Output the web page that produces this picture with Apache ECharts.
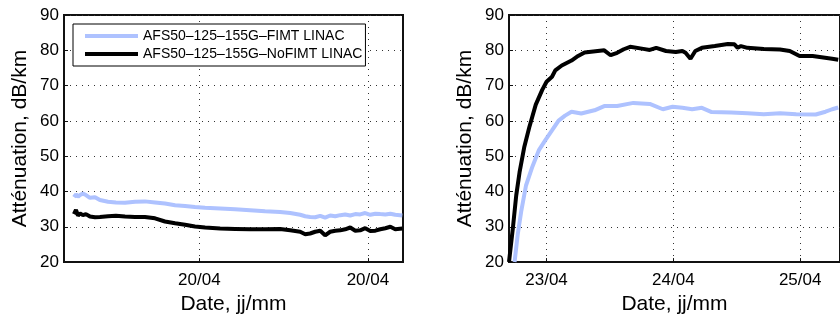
<!DOCTYPE html>
<html>
<head>
<meta charset="utf-8">
<script src="https://cdn.jsdelivr.net/npm/echarts@6/dist/echarts.min.js"></script>
<style>html,body{margin:0;padding:0;background:#fff;}#c{width:840px;height:320px;}</style>
</head>
<body>
<div id="c"></div>
<script>
// ---- Data ----
var seriesNames = ['AFS50\u2013125\u2013155G\u2013FIMT LINAC', 'AFS50\u2013125\u2013155G\u2013NoFIMT LINAC'];

// Left panel (x in tick units, 0 and 1 are the two "20/04" ticks)
var leftX = [-0.744,-0.732,-0.720,-0.708,-0.691,-0.673,-0.649,-0.619,-0.590,-0.542,-0.495,-0.441,-0.382,-0.323,-0.263,-0.204,-0.144,-0.085,-0.026,0.034,0.123,0.212,0.301,0.390,0.479,0.539,0.598,0.628,0.657,0.687,0.717,0.746,0.776,0.806,0.836,0.865,0.895,0.925,0.954,0.984,1.014,1.044,1.073,1.103,1.133,1.162,1.204];
var leftFimt = [38.4,39.2,38.5,39.0,39.4,39.0,38.2,38.4,37.6,37.1,36.9,36.8,37.1,37.2,36.9,36.6,36.1,35.9,35.6,35.4,35.2,35.0,34.7,34.4,34.2,33.9,33.4,33.0,32.8,32.7,33.1,32.6,33.2,33.0,33.3,33.5,33.2,33.6,33.5,33.9,33.4,33.7,33.6,33.5,33.7,33.4,33.2];
var leftNoFimt = [33.6,34.8,33.2,33.8,33.3,33.6,32.9,32.7,32.8,33.0,33.1,32.9,32.8,32.8,32.4,31.5,31.0,30.6,30.1,29.8,29.5,29.4,29.3,29.3,29.4,29.0,28.6,27.9,28.1,28.6,28.9,27.6,28.6,28.9,29.0,29.3,29.8,28.9,29.0,29.6,28.8,28.9,29.3,29.6,30.0,29.3,29.5];
var leftTickValues = [0, 1];
var leftTickLabels = ['20/04', '20/04'];

// Right panel (x in days of April)
var rightBlackX = [22.704,22.735,22.761,22.787,22.825,22.864,22.915,22.966,23.000,23.043,23.069,23.120,23.197,23.249,23.300,23.403,23.455,23.505,23.557,23.609,23.659,23.763,23.814,23.865,23.942,24.019,24.071,24.096,24.135,24.173,24.225,24.327,24.430,24.482,24.507,24.533,24.584,24.713,24.841,24.918,24.995,25.098,25.252,25.300];
var rightNoFimt = [20.0,29.8,38.9,45.4,52.7,58.2,64.6,68.8,71.1,72.5,74.3,75.7,77.1,78.4,79.4,79.8,80.0,78.6,79.3,80.3,81.0,80.4,80.1,80.7,79.8,79.5,79.8,79.3,77.6,79.8,80.7,81.2,81.8,81.7,80.7,81.2,80.7,80.4,80.2,79.8,78.4,78.4,77.6,77.3];
var rightBlueX = [22.748,22.773,22.800,22.838,22.889,22.941,22.992,23.043,23.095,23.146,23.197,23.274,23.378,23.455,23.557,23.685,23.814,23.917,23.994,24.071,24.148,24.225,24.302,24.456,24.584,24.713,24.841,24.969,25.123,25.200,25.252,25.300];
var rightFimt = [20.0,27.9,34.3,41.7,47.1,51.8,54.6,57.3,60.1,61.5,62.6,62.1,63.0,64.2,64.2,65.1,64.8,63.3,64.0,63.7,63.3,63.7,62.5,62.4,62.2,61.9,62.2,61.9,61.8,62.6,63.3,63.8];
var rightTickValues = [23, 24, 25];
var rightTickLabels = ['23/04', '24/04', '25/04'];

var yMin = 20, yMax = 90, yStep = 10;
var xTitle = 'Date, jj/mm';
var yTitle = 'Att\u00e9nuation, dB/km';

// ---- Chart ----
var FONT = '"Liberation Sans", Arial, Helvetica, sans-serif';
var BLUE = '#aec2ff';
var BLACK = '#000000';
var GRIDDOT = { color: '#333', width: 1, type: [1, 5] };
function zip(xs, ys){ return xs.map(function(x,i){ return [x, ys[i]]; }); }

function xAxisCfg(idx, min, max, ticks, labels){
  return {
    type: 'value', gridIndex: idx, min: min, max: max,
    name: xTitle, nameLocation: 'middle', nameGap: 29,
    nameTextStyle: { fontSize: 21, color: '#000', fontFamily: FONT },
    axisLine: { show: true, onZero: false, lineStyle: { color: '#111', width: 2 } },
    axisTick: { show: true, inside: true, length: 4, customValues: ticks, lineStyle: { color: '#111' } },
    axisLabel: { customValues: ticks, margin: 10, fontSize: 17, color: '#000', fontFamily: FONT,
      formatter: function(v){ var i = ticks.indexOf(v); return i >= 0 ? labels[i] : ''; } },
    splitLine: { show: true, customValues: ticks, lineStyle: GRIDDOT }
  };
}
function yAxisCfg(idx){
  return {
    type: 'value', gridIndex: idx, min: yMin, max: yMax, interval: yStep,
    name: yTitle, nameLocation: 'middle', nameGap: 33,
    nameTextStyle: { fontSize: 21, color: '#000', fontFamily: FONT },
    axisLine: { show: true, onZero: false, lineStyle: { color: '#111', width: 2 } },
    axisTick: { show: true, inside: true, length: 4, lineStyle: { color: '#111' } },
    axisLabel: { margin: 5, fontSize: 17, color: '#000', fontFamily: FONT },
    splitLine: { show: true, lineStyle: GRIDDOT }
  };
}
function lineSeries(name, idx, data, color){
  return {
    name: name, type: 'line', xAxisIndex: idx, yAxisIndex: idx, data: data,
    showSymbol: false, symbol: 'none', z: 3,
    lineStyle: { color: color, width: 4 }, itemStyle: { color: color }
  };
}

var chart = echarts.init(document.getElementById('c'), null, { renderer: 'canvas' });
chart.setOption({
  animation: false,
  backgroundColor: '#fff',
  textStyle: { fontFamily: FONT },
  grid: [
    { left: 64, top: 15, width: 339, height: 254, show: true, borderColor: '#111', borderWidth: 2, backgroundColor: 'transparent' },
    { left: 509, top: 15, width: 339, height: 254, show: true, borderColor: '#111', borderWidth: 2, backgroundColor: 'transparent' }
  ],
  legend: {
    data: seriesNames, orient: 'vertical', left: 73, top: 24,
    icon: 'rect', itemWidth: 53, itemHeight: 4, itemGap: 4, padding: [5, 3, 5, 12],
    borderColor: '#000', borderWidth: 1, backgroundColor: '#fff', borderRadius: 0,
    textStyle: { fontSize: 14, color: '#000', fontFamily: FONT }, selectedMode: false
  },
  xAxis: [
    xAxisCfg(0, -0.803, 1.208, leftTickValues, leftTickLabels),
    xAxisCfg(1, 22.704, 25.314, rightTickValues, rightTickLabels)
  ],
  yAxis: [ yAxisCfg(0), yAxisCfg(1) ],
  series: [
    lineSeries(seriesNames[0], 0, zip(leftX, leftFimt), BLUE),
    lineSeries(seriesNames[1], 0, zip(leftX, leftNoFimt), BLACK),
    lineSeries(seriesNames[0], 1, zip(rightBlueX, rightFimt), BLUE),
    lineSeries(seriesNames[1], 1, zip(rightBlackX, rightNoFimt), BLACK)
  ]
});
</script>
</body>
</html>
